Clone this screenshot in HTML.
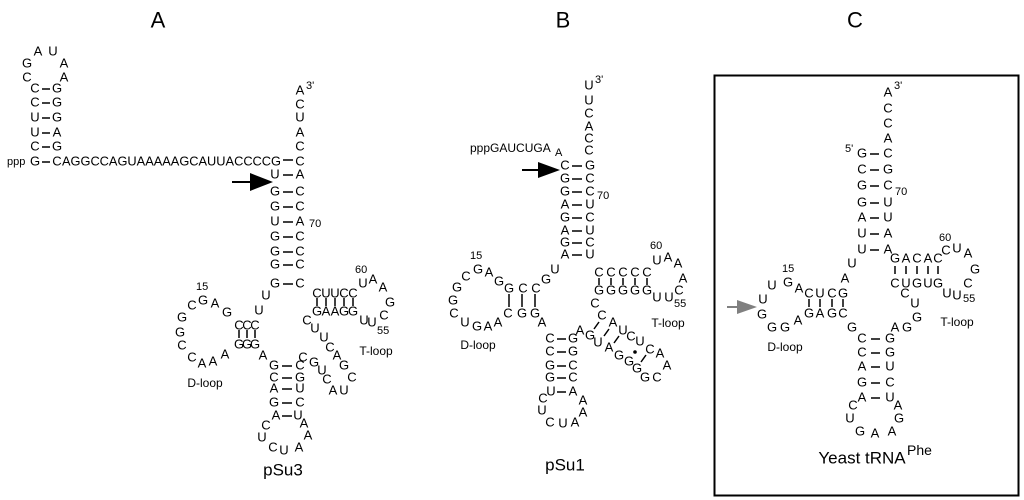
<!DOCTYPE html>
<html><head><meta charset="utf-8"><style>html,body{margin:0;padding:0;background:#fff}svg{display:block}</style></head><body>
<svg width="1024" height="500" viewBox="0 0 1024 500" xmlns="http://www.w3.org/2000/svg" font-family="Liberation Sans, sans-serif">
<g font-size="22" text-anchor="middle" dominant-baseline="central">
<text x="158" y="20">A</text><text x="563" y="20">B</text><text x="855" y="20">C</text>
</g>
<rect x="714.5" y="75.5" width="304" height="420" fill="none" stroke="#000" stroke-width="2"/>
<g font-size="13" text-anchor="middle" dominant-baseline="central">
<!-- Panel A hairpin -->
<text x="27" y="63">G</text><text x="38" y="51">A</text><text x="53" y="51">U</text><text x="64" y="63">A</text>
<text x="27" y="77">C</text><text x="64" y="77">A</text>
<text x="35" y="88">C</text><text x="57" y="88">G</text>
<text x="35" y="102">C</text><text x="57" y="102">G</text>
<text x="35" y="117">U</text><text x="57" y="117">G</text>
<text x="35" y="132">U</text><text x="57" y="132">A</text>
<text x="35" y="146">C</text><text x="57" y="146">G</text>
<text x="35" y="161">G</text><text x="57" y="161">C</text>
<text x="62" y="161" text-anchor="start" textLength="219" lengthAdjust="spacingAndGlyphs">AGGCCAGUAAAAAGCAUUACCCCG</text>
<!-- A acceptor -->
<text x="300" y="90">A</text><text x="300" y="104">C</text><text x="300" y="117">U</text><text x="300" y="132">A</text><text x="300" y="146">C</text><text x="300" y="161">C</text>
<text x="275" y="174">U</text><text x="300" y="174">A</text>
<text x="275" y="191">G</text><text x="300" y="191">C</text>
<text x="275" y="206">G</text><text x="300" y="206">C</text>
<text x="275" y="221">U</text><text x="300" y="221">A</text>
<text x="275" y="236">G</text><text x="300" y="236">C</text>
<text x="275" y="251">G</text><text x="300" y="251">C</text>
<text x="275" y="264">G</text><text x="300" y="264">C</text>
<text x="275" y="283">G</text><text x="300" y="283">C</text>
<text x="266" y="295">U</text><text x="259" y="310">U</text>
<!-- A T arm -->
<text x="317" y="293">C</text><text x="326" y="293">U</text><text x="335" y="293">U</text><text x="344" y="293">C</text><text x="353" y="293">C</text>
<text x="317" y="311">G</text><text x="326" y="311">A</text><text x="335" y="311">A</text><text x="344" y="311">G</text><text x="353" y="311">G</text>
<text x="363" y="283">U</text><text x="373" y="279">A</text><text x="383" y="287">A</text><text x="390" y="302">G</text><text x="384" y="315">C</text><text x="364" y="320">U</text><text x="372" y="322">U</text>
<text x="307" y="320">C</text><text x="315" y="328">U</text><text x="324" y="337">U</text><text x="330" y="347">C</text><text x="337" y="355">A</text><text x="344" y="365">G</text><text x="352" y="377">C</text><text x="344" y="390">U</text><text x="333" y="390">A</text><text x="327" y="379">C</text><text x="322" y="370">U</text><text x="314" y="362">G</text><text x="303" y="357">C</text>
<!-- A D arm -->
<text x="239" y="325">C</text><text x="247" y="325">C</text><text x="255" y="325">C</text>
<text x="239" y="344">G</text><text x="247" y="344">G</text><text x="255" y="344">G</text>
<text x="263" y="355">A</text>
<text x="227" y="312">G</text><text x="215" y="303">A</text><text x="203" y="300">G</text><text x="192" y="305">C</text><text x="182" y="317">G</text><text x="180" y="332">G</text><text x="182" y="345">C</text><text x="192" y="357">C</text><text x="202" y="363">A</text><text x="213" y="361">A</text><text x="225" y="354">A</text>
<!-- A anticodon -->
<text x="274" y="365">G</text><text x="300" y="365">C</text>
<text x="274" y="377">C</text><text x="300" y="377">G</text>
<text x="274" y="388">A</text><text x="300" y="388">U</text>
<text x="274" y="402">G</text><text x="300" y="402">C</text>
<text x="276" y="415">A</text><text x="298" y="415">U</text>
<text x="266" y="425">C</text><text x="262" y="437">U</text><text x="273" y="447">C</text><text x="284" y="450">U</text><text x="299" y="447">A</text><text x="308" y="435">A</text><text x="304" y="423">A</text>

<!-- Panel B acceptor -->
<text x="589" y="85">U</text><text x="589" y="100">U</text><text x="589" y="113">C</text><text x="589" y="126">A</text><text x="589" y="138">C</text><text x="589" y="150">C</text>
<text x="565" y="165">C</text><text x="590" y="165">G</text>
<text x="565" y="178">G</text><text x="590" y="178">C</text>
<text x="565" y="191">G</text><text x="590" y="191">C</text>
<text x="565" y="204">A</text><text x="590" y="204">U</text>
<text x="565" y="217">G</text><text x="590" y="217">C</text>
<text x="565" y="230">A</text><text x="590" y="230">U</text>
<text x="565" y="242">G</text><text x="590" y="242">C</text>
<text x="565" y="254">A</text><text x="590" y="254">U</text>
<text x="555" y="269">U</text><text x="546" y="279">G</text>
<!-- B T arm -->
<text x="599" y="272">C</text><text x="611" y="272">C</text><text x="623" y="272">C</text><text x="635" y="272">C</text><text x="647" y="272">C</text>
<text x="599" y="290">G</text><text x="611" y="290">G</text><text x="623" y="290">G</text><text x="635" y="290">G</text><text x="647" y="290">G</text>
<text x="657" y="260">U</text><text x="668" y="257">A</text><text x="678" y="263">A</text><text x="683" y="278">A</text><text x="679" y="290">C</text><text x="657" y="297">U</text><text x="669" y="297">U</text>
<text x="595" y="303">C</text><text x="602" y="315">C</text><text x="613" y="322">A</text><text x="623" y="330">U</text><text x="631" y="336">C</text><text x="640" y="341">U</text><text x="650" y="349">C</text><text x="660" y="353">A</text><text x="667" y="365">A</text><text x="657" y="377">C</text><text x="645" y="377">G</text><text x="637" y="368">G</text><text x="629" y="361">G</text><text x="619" y="355">G</text><text x="609" y="347">A</text><text x="598" y="342">U</text><text x="590" y="335">G</text><text x="580" y="330">A</text>
<!-- B D arm -->
<text x="509" y="288">G</text><text x="523" y="288">C</text><text x="536" y="288">C</text>
<text x="508" y="313">C</text><text x="522" y="313">G</text><text x="535" y="313">G</text>
<text x="542" y="322">A</text>
<text x="499" y="281">G</text><text x="489" y="272">A</text><text x="478" y="269">G</text><text x="466" y="276">C</text><text x="457" y="287">G</text><text x="453" y="300">G</text><text x="454" y="313">C</text><text x="465" y="322">U</text><text x="477" y="326">G</text><text x="488" y="326">A</text><text x="498" y="322">A</text>
<!-- B anticodon -->
<text x="550" y="338">C</text><text x="573" y="338">G</text>
<text x="550" y="351">C</text><text x="573" y="351">G</text>
<text x="550" y="365">G</text><text x="573" y="365">C</text>
<text x="550" y="377">G</text><text x="573" y="377">C</text>
<text x="551" y="391">U</text><text x="573" y="391">A</text>
<text x="543" y="398">C</text><text x="542" y="410">U</text><text x="550" y="422">C</text><text x="563" y="423">U</text><text x="575" y="422">A</text><text x="583" y="412">A</text><text x="583" y="400">A</text>

<!-- Panel C acceptor -->
<text x="888" y="92">A</text><text x="888" y="108">C</text><text x="888" y="123">C</text><text x="888" y="138">A</text>
<text x="862" y="153">G</text><text x="888" y="153">C</text>
<text x="862" y="169">C</text><text x="888" y="169">G</text>
<text x="862" y="185">G</text><text x="888" y="185">C</text>
<text x="862" y="202">G</text><text x="888" y="202">U</text>
<text x="862" y="217">A</text><text x="888" y="217">U</text>
<text x="862" y="233">U</text><text x="888" y="233">A</text>
<text x="862" y="249">U</text><text x="888" y="249">A</text>
<text x="852" y="263">U</text><text x="845" y="278">A</text>
<!-- C T arm -->
<text x="895" y="258">G</text><text x="906" y="258">A</text><text x="917" y="258">C</text><text x="928" y="258">A</text><text x="938" y="258">C</text>
<text x="895" y="283">C</text><text x="906" y="283">U</text><text x="917" y="283">G</text><text x="928" y="283">U</text><text x="938" y="283">G</text>
<text x="946" y="250">C</text><text x="957" y="248">U</text><text x="968" y="253">A</text><text x="975" y="269">G</text><text x="968" y="283">C</text><text x="947" y="293">U</text><text x="957" y="295">U</text>
<text x="905" y="293">C</text><text x="915" y="303">U</text><text x="917" y="317">G</text><text x="907" y="327">G</text><text x="895" y="327">A</text>
<!-- C D arm -->
<text x="809" y="293">C</text><text x="820" y="293">U</text><text x="832" y="293">C</text><text x="843" y="293">G</text>
<text x="809" y="313">G</text><text x="820" y="313">A</text><text x="832" y="313">G</text><text x="843" y="313">C</text>
<text x="799" y="288">A</text><text x="798" y="320">A</text>
<text x="788" y="282">G</text><text x="772" y="285">U</text><text x="763" y="299">U</text><text x="762" y="314">G</text><text x="772" y="327">G</text><text x="785" y="327">G</text>
<text x="852" y="327">G</text>
<!-- C anticodon -->
<text x="862" y="338">C</text><text x="890" y="338">G</text>
<text x="862" y="352">C</text><text x="890" y="352">G</text>
<text x="862" y="366">A</text><text x="890" y="366">U</text>
<text x="862" y="382">G</text><text x="890" y="382">C</text>
<text x="862" y="397">A</text><text x="890" y="397">U</text>
<text x="853" y="405">C</text><text x="850" y="418">U</text><text x="860" y="431">G</text><text x="875" y="433">A</text><text x="892" y="431">A</text><text x="899" y="418">G</text><text x="898" y="405">A</text>
</g>
<!-- small labels -->
<g font-size="11" dominant-baseline="central">
<text x="7" y="162">ppp</text>
<text x="306" y="86">3'</text><text x="309" y="224">70</text>
<text x="196" y="287">15</text><text x="355" y="270">60</text><text x="377" y="331">55</text>
<text x="470" y="148" font-size="12">pppGAUCUGA</text><text x="555" y="153">A</text>
<text x="595" y="80">3'</text><text x="597" y="196">70</text>
<text x="470" y="256">15</text><text x="650" y="246">60</text><text x="674" y="304">55</text>
<text x="894" y="86">3'</text><text x="845" y="149">5'</text><text x="895" y="192">70</text>
<text x="782" y="269">15</text><text x="939" y="238">60</text><text x="963" y="299">55</text>
</g>
<g font-size="12" text-anchor="middle" dominant-baseline="central">
<text x="205" y="383">D-loop</text><text x="376" y="351">T-loop</text>
<text x="478" y="345">D-loop</text><text x="668" y="323">T-loop</text>
<text x="785" y="347">D-loop</text><text x="957" y="322">T-loop</text>
</g>
<g font-size="17" text-anchor="middle" dominant-baseline="central">
<text x="283" y="470">pSu3</text><text x="565" y="465">pSu1</text>
<text x="862" y="458">Yeast tRNA</text>
</g>
<text x="907" y="450" font-size="14" dominant-baseline="central">Phe</text>
<!-- pair dashes -->
<g stroke="#000" stroke-width="1.5">
<path d="M42 89h8M42 103h8M42 118h8M42 133h8M42 147h8M42 162h8"/>
<path d="M283 160h10M283 175h10M283 192h10M283 207h10M283 222h10M283 237h10M283 252h10M283 265h10M283 284h10"/>
<path d="M317 298v8M326 298v8M335 298v8M344 298v8M353 298v8"/>
<path d="M239 330v8M247 330v8M255 330v8"/>
<path d="M282 366h10M282 378h10M282 389h10M282 403h10M282 416h10"/>
<path d="M572 166h10M572 179h10M572 192h10M572 205h10M572 218h10M572 231h10M572 243h10M572 255h10"/>
<path d="M599 278v7M611 278v7M623 278v7M635 278v7M647 278v7"/>
<path d="M509 294v13M522 294v13M535 294v13"/>
<path d="M557 339h9M557 352h9M557 366h9M557 378h9M557 392h9"/>
<path d="M594 329l5-7M604 336l5-7M614 343l5-7M641 362l5-7"/>
<path d="M870 154h9M870 170h9M870 186h9M870 203h9M870 218h9M870 234h9M870 250h9"/>
<path d="M895 266v8M906 266v8M917 266v8M928 266v8M938 266v8"/>
<path d="M809 299v8M820 299v8M832 299v8M843 299v8"/>
<path d="M871 339h9M871 353h9M871 367h9M871 383h9M871 398h9"/>
</g>
<circle cx="635" cy="352" r="1.8" fill="#000"/>
<!-- arrows -->
<path d="M232 182h20" stroke="#000" stroke-width="2"/><path d="M250 173L273 182L250 191Z" fill="#000"/>
<path d="M522 170h20" stroke="#000" stroke-width="2"/><path d="M538 162L560 170L538 178Z" fill="#000"/>
<path d="M727 307h12" stroke="#808080" stroke-width="2"/><path d="M737 300L757 307L737 314Z" fill="#808080"/>
</svg>
</body></html>
